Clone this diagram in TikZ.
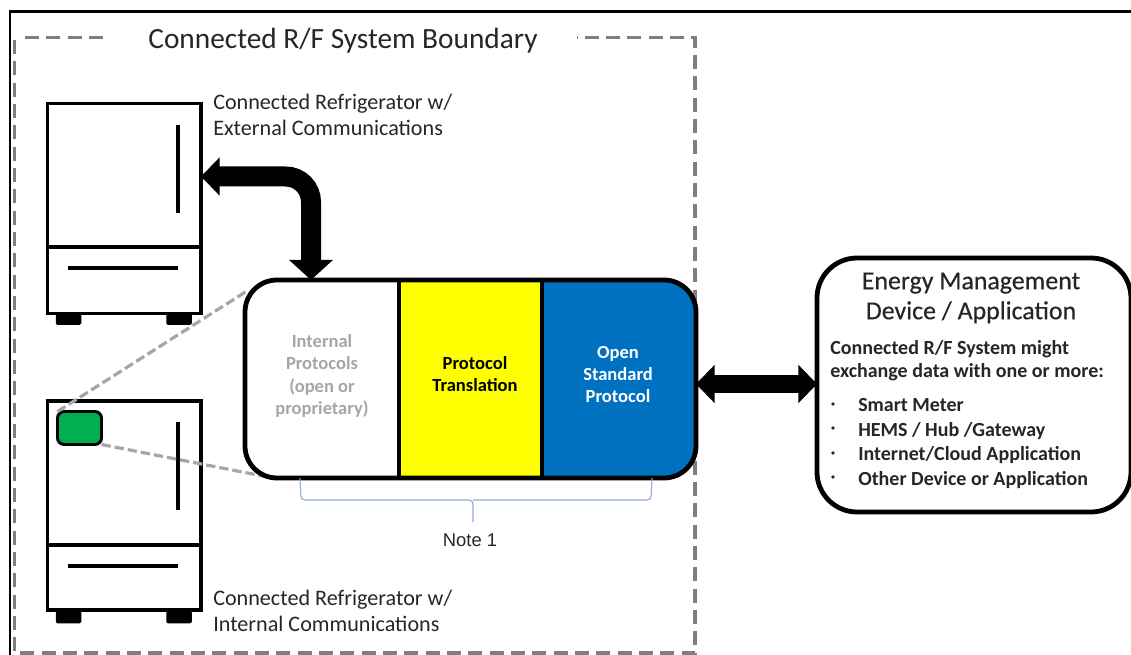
\documentclass[tikz,border=0pt]{standalone}
\usepackage{fontspec}
\setmainfont{Carlito}
\newfontfamily\notefont{Liberation Sans}
\newfontfamily\headfont[FakeBold=0.35]{Carlito}
\usetikzlibrary{arrows.meta}
\definecolor{dashgray}{HTML}{7F7F7F}
\definecolor{leadgray}{HTML}{A6A6A6}
\definecolor{protoblue}{HTML}{0070C0}
\definecolor{chipgreen}{HTML}{00B050}
\definecolor{bracecol}{HTML}{8FAADC}
\definecolor{txtdark}{HTML}{262626}
\definecolor{transyellow}{rgb}{1,1,0}
\tikzset{
  x=0.75pt,y=-0.75pt,
  fridgebody/.style={draw=black,line width=2.5pt,fill=white,minimum width=153.5*0.75pt,anchor=north west,inner sep=0pt,outer sep=0pt},
  foot/.style={fill=black,rounded corners=1pt,minimum width=25.5*0.75pt,minimum height=12*0.75pt,anchor=north west,inner sep=0pt},
  fridgeline/.style={line width=3pt,black},
  fridgediv/.style={line width=2.5pt,black},
  boundary/.style={dashgray,line width=2.4pt,dash pattern=on 10.5pt off 5.5pt},
  leader/.style={leadgray,line width=2.4pt,dash pattern=on 7pt off 3pt},
  fatarrow/.style={line width=14pt,black,{Triangle[length=14pt,width=28pt]}-{Triangle[length=14pt,width=28pt]}},
  lbl/.style={font=\fontsize{16.6pt}{20pt}\selectfont,text=txtdark,anchor=base west,inner sep=0pt},
  cell/.style={font=\fontsize{13.9pt}{16.8pt}\selectfont\bfseries,align=center,inner sep=0pt},
  head/.style={font=\headfont\fontsize{19.4pt}{22.5pt}\selectfont,text=txtdark,align=center,inner sep=0pt},
  bodytxt/.style={font=\fontsize{15pt}{16pt}\selectfont\bfseries,text=txtdark,anchor=base west,inner sep=0pt},
  bulletdot/.style={fill=txtdark,circle,inner sep=0pt,minimum size=2.8pt},
}
\begin{document}
\begin{tikzpicture}
\useasboundingbox (0,0) rectangle (1131,655);
\clip (0,0) rectangle (1131,655);
\fill[white] (0,0) rectangle (1131,655);
% frame
\draw[black,line width=1.8pt] (10,660) -- (10,11.5) -- (1135,11.5);
% boundary
\draw[boundary] (103,37.5) -- (20,37.5);
\draw[boundary] (14.5,40) -- (14.5,653) -- (695,653) -- (695,37.5) -- (577,37.5);
\node[font=\fontsize{22pt}{24pt}\selectfont,text=txtdark,inner sep=0pt] (title) at (343,41) {Connected R/F System Boundary};
% fridge 1
\node[foot] (f1a) at (55.5,312.5) {};
\node[foot] (f1b) at (166,312.5) {};
\node[fridgebody,minimum height=210*0.75pt] (fridgeA) at (47.5,103.5) {};
\draw[fridgediv] (47.5,247) -- (201,247);
\draw[fridgeline] (178,125) -- (178,213);
\draw[fridgeline] (67.5,268.5) -- (178,268.5);
% fridge 2
\node[foot] (f2a) at (55.5,611) {};
\node[foot] (f2b) at (166,611) {};
\node[fridgebody,minimum height=209*0.75pt] (fridgeB) at (47.5,401) {};
\draw[fridgediv] (47.5,545) -- (201,545);
\draw[fridgeline] (178,422) -- (178,510);
\draw[fridgeline] (67.5,566) -- (178,566);
\node[draw=black,line width=2.2pt,fill=chipgreen,rounded corners=5pt,minimum width=44*0.75pt,minimum height=33*0.75pt,anchor=north west,inner sep=0pt,outer sep=0pt] (chip) at (57.5,411.5) {};
% leaders
\coordinate (leadA) at (247,291);
\coordinate (leadB) at (268,477);
\draw[leader] (chip.north west) -- (leadA);
\draw[leader] (chip.south east) -- (leadB);
% main box
\begin{scope}
\clip[rounded corners=24pt] (245,280) rectangle (696,478);
\fill[white] (245,280) rectangle (696,478);
\fill[transyellow] (399,280) rectangle (542,478);
\fill[protoblue] (542,280) rectangle (696,478);
\end{scope}
\node[draw=black,line width=3.6pt,rounded corners=24pt,minimum width=451*0.75pt,minimum height=198*0.75pt,anchor=north west,inner sep=0pt,outer sep=0pt] (main) at (245,280) {};
\draw[black,line width=3pt] (399,280) -- (399,478);
\draw[black,line width=3.6pt] (542,280) -- (542,478);
\node[cell,text=leadgray] (internal) at (322,376) {Internal\\Protocols\\(open or\\proprietary)};
\node[cell,text=black] (translation) at (475,374) {Protocol\\Translation};
\node[cell,text=white] (open) at (618,374.5) {Open\\Standard\\Protocol};
% brace
\coordinate (braceL) at (300,478);
\coordinate (braceR) at (652,478);
\coordinate (braceT) at (473,522);
\draw[bracecol,line width=0.8pt,rounded corners=3pt] (braceL) -- (301,500) -- (473,500) -- (braceT);
\draw[bracecol,line width=0.8pt,rounded corners=3pt] (braceR) -- (651,500) -- (473,500);
\node[font=\notefont\fontsize{13.8pt}{14pt}\selectfont,text=txtdark,inner sep=0pt] (note) at (470,540) {Note 1};
% energy box
\node[draw=black,line width=3.6pt,fill=white,rounded corners=30pt,minimum width=314*0.75pt,minimum height=254*0.75pt,anchor=north west,inner sep=0pt,outer sep=0pt] (energy) at (817,258) {};
\node[head] (ehead) at (971,298) {Energy Management\\Device / Application};
\node[bodytxt] (b1) at (830,355) {Connected R/F System might};
\node[bodytxt] (b2) at (830,378) {exchange data with one or more:};
\node[bodytxt] (i1) at (858,411.5) {Smart Meter};
\node[bodytxt] (i2) at (858,436) {HEMS / Hub /Gateway};
\node[bodytxt] (i3) at (858,460) {Internet/Cloud Application};
\node[bodytxt] (i4) at (858,485) {Other Device or Application};
\node[bulletdot] (d1) at (833,404) {};
\node[bulletdot] (d2) at (833,428) {};
\node[bulletdot] (d3) at (833,453) {};
\node[bulletdot] (d4) at (833,477) {};
% arrows
\draw[fatarrow] (main.east |- 0,384) -- (energy.west |- 0,384);
\coordinate (arrowcorner) at (311,176.5);
\draw[line width=15pt,black,rounded corners=19pt,{Triangle[length=14pt,width=28pt]}-{Triangle[length=15pt,width=32pt]}] (fridgeA.east |- arrowcorner) -- (arrowcorner) -- (arrowcorner |- main.north);
% labels
\node[lbl] (tA1) at (213,110) {Connected Refrigerator w/};
\node[lbl] (tA2) at (213,136) {External Communications};
\node[lbl] (tB1) at (213,605) {Connected Refrigerator w/};
\node[lbl] (tB2) at (213,631) {Internal Communications};
\end{tikzpicture}
\end{document}
